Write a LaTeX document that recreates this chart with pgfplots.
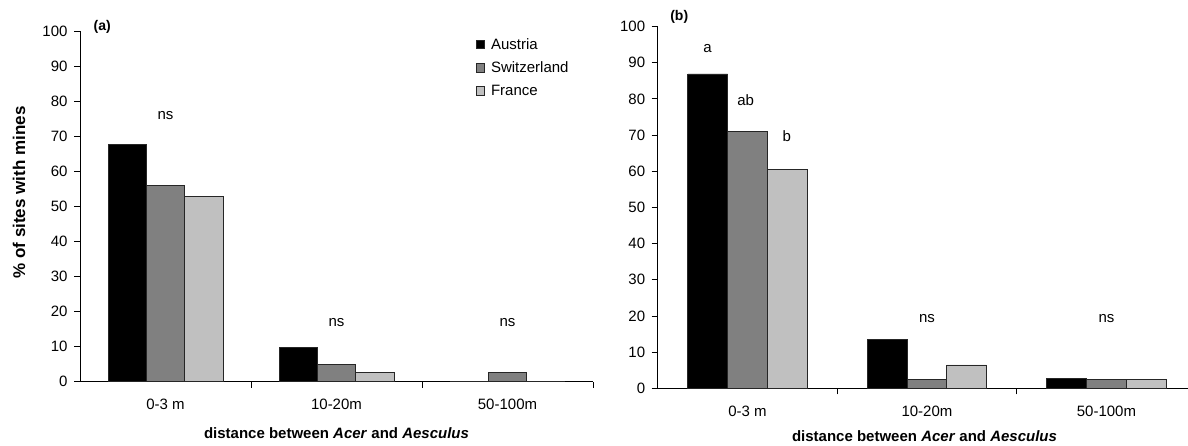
\documentclass[border=0pt]{standalone}
\usepackage{pgfplots}
\pgfplotsset{compat=1.18}
\usepackage{fontspec}
\setmainfont{Liberation Sans}
\definecolor{swiss}{RGB}{128,128,128}
\definecolor{fra}{RGB}{192,192,192}
\newcommand{\fs}{\fontsize{15}{18}\selectfont}
\pgfplotsset{
  mybase/.style={
    scale only axis,
    ybar,
    axis lines*=left,
    axis line style={black, line width=0.9pt},
    ymin=0, ymax=100,
    ytick={0,10,...,100},
    xtick={0,1,2},
    xticklabels={0-3 m,10-20m,50-100m},
    minor xtick={0.5,1.5,2.5},
    major x tick style={draw=none},
    tick style={black, line width=0.9pt},
    tick align=outside,
    major tick length=6pt,
    minor tick length=6pt,
    tick label style={font=\fs},
    /pgf/number format/assume math mode=true,
    yticklabel style={xshift=-3pt},
    xticklabel style={anchor=base, yshift=-22pt},
    clip=false,
  },
  barsty/.style={draw=black!85, line width=0.8pt, fill=#1,
    legend image code/.code={\path[draw=none,fill=none] (0pt,0pt) -- (13.5pt,0pt);
      \draw[##1,line width=0.8pt] (0pt,-4.2pt) rectangle (8.4pt,4.2pt);}},
}
\begin{document}
\begin{tikzpicture}
\useasboundingbox (0,0) rectangle (1188pt,-445pt);
% ---------------- panel (a)
\begin{axis}[mybase,
  at={(80pt,-381.7pt)}, anchor=south west,
  width=513pt, height=350.7pt,
  xmin=-0.5, xmax=2.5,
  bar width=38.3pt,
  ylabel={\fontsize{17}{20}\selectfont\bfseries \% of sites with mines},
  ylabel style={at={(axis description cs:-0.119,0.5395)}, anchor=center},
  xlabel={\fs\bfseries distance between \textit{Acer} and \textit{Aesculus}},
  xlabel style={at={(axis description cs:0.5,0)}, anchor=base, yshift=-56.6pt},
  legend style={at={(0.765,0.99)}, anchor=north west, draw=none, fill=none,
    font=\fs, row sep=8pt, nodes={inner sep=1.5pt}},
  legend cell align=left,
]
\addplot[barsty=black, bar shift=-38.3pt] coordinates {(0,67.7) (1,9.7) (2,0)};
\addplot[barsty=swiss, bar shift=0pt] coordinates {(0,56.0) (1,4.8) (2,2.6)};
\addplot[barsty=fra, bar shift=38.3pt] coordinates {(0,52.9) (1,2.6) (2,0)};
\legend{Austria,Switzerland,France}
\node[font=\fs] at (axis cs:0,75.8) {ns};
\node[font=\fs] at (axis cs:1,16.8) {ns};
\node[font=\fs] at (axis cs:2,16.8) {ns};
\node[font=\fontsize{14}{16}\selectfont\bfseries] at (axis cs:-0.37,101.3) {(a)};
\end{axis}
% ---------------- panel (b)
\begin{axis}[mybase,
  at={(657.7pt,-388.3pt)}, anchor=south west,
  width=530pt, height=361.7pt,
  xmin=-0.5, xmax=2.4526,
  bar width=39.8pt,
  xlabel={\fs\bfseries distance between \textit{Acer} and \textit{Aesculus}},
  xlabel style={at={(axis description cs:0.5034,0)}, anchor=base, yshift=-53.4pt},
]
\addplot[barsty=black, bar shift=-39.8pt] coordinates {(0,86.9) (1,13.5) (2,2.8)};
\addplot[barsty=swiss, bar shift=0pt] coordinates {(0,70.9) (1,2.5) (2,2.5)};
\addplot[barsty=fra, bar shift=39.8pt] coordinates {(0,60.4) (1,6.45) (2,2.5)};
\node[font=\fs] at (axis cs:-0.222,93.8) {a};
\node[font=\fs] at (axis cs:-0.01,79.7) {ab};
\node[font=\fs] at (axis cs:0.219,69.8) {b};
\node[font=\fs] at (axis cs:1,19.2) {ns};
\node[font=\fs] at (axis cs:2,19.2) {ns};
\node[font=\fontsize{14}{16}\selectfont\bfseries] at (axis cs:-0.38,102.7) {(b)};
\end{axis}
\end{tikzpicture}
\end{document}
